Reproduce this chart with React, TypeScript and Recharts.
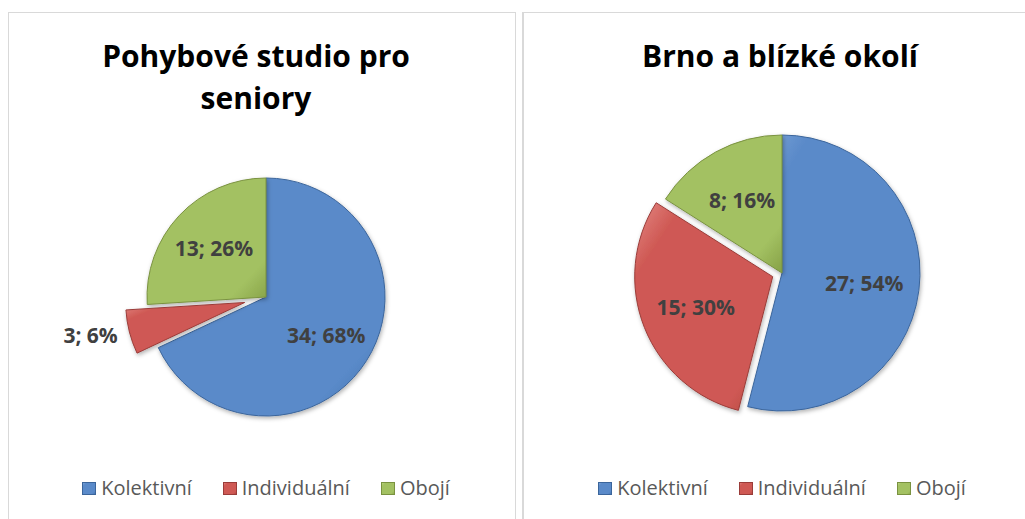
import { Cell, Legend, Pie, PieChart } from "recharts";

const categories = ["Kolektivní", "Individuální", "Obojí"];
const studioValues = [34, 3, 13];
const brnoValues = [27, 15, 8];
const studioTitle = "Pohybové studio pro seniory";
const brnoTitle = "Brno a blízké okolí";

// light edge, body, dark edge, outline
const SLICE_SHADES = [
  ["#86abdc", "#5a8ac9", "#3f6ea8", "#3b659b"],
  ["#e48a86", "#cf5954", "#a9403c", "#9a3c39"],
  ["#c2da8c", "#a3c162", "#86a146", "#7a9240"],
];

const LABEL_COLOR = "#404040";
const BORDER = "#d9d9d9";
const RAD = Math.PI / 180;

function toRows(values: number[]) {
  return categories.map((name, i) => ({ name, value: values[i] }));
}

// mid angle (degrees, recharts convention) of one slice when drawn clockwise from 12 o'clock
function sliceMidAngle(values: number[], index: number) {
  const total = values.reduce((a, b) => a + b, 0);
  const before = values.slice(0, index).reduce((a, b) => a + b, 0);
  return 90 - ((before + values[index] / 2) / total) * 360;
}

function makeLabel(visible: (index: number) => boolean) {
  return (props: any) => {
    const { cx, cy, midAngle, outerRadius, percent, value, index } = props;
    if (!visible(index)) return null;
    const outside = percent < 0.1;
    const r = outside ? outerRadius + 12 : outerRadius * 0.6;
    const x = cx + r * Math.cos(-midAngle * RAD);
    const y = cy + r * Math.sin(-midAngle * RAD);
    return (
      <text
        x={x}
        y={y}
        textAnchor={outside ? (x < cx ? "end" : "start") : "middle"}
        dominantBaseline="central"
        fill={LABEL_COLOR}
        fontFamily="'Open Sans', sans-serif"
        fontWeight={700}
        fontSize={21}
      >
        {`${value}; ${Math.round(percent * 100)}%`}
      </text>
    );
  };
}

function LegendRow({ prefix }: { prefix: string }) {
  return (
    <div
      style={{
        display: "flex",
        justifyContent: "center",
        alignItems: "center",
        height: 24,
        fontFamily: "'Open Sans', sans-serif",
        fontSize: 20,
        color: "#595959",
      }}
    >
      {categories.map((name, i) => (
        <div key={name} style={{ display: "flex", alignItems: "center", marginLeft: i ? 31 : 0 }}>
          <svg width={14} height={13} style={{ marginRight: 5 }}>
            <rect x={0.5} y={0.5} width={13} height={12} fill={`url(#${prefix}-grad-${i})`} stroke={SLICE_SHADES[i][3]} />
          </svg>
          <span style={{ lineHeight: "24px" }}>{name}</span>
        </div>
      ))}
    </div>
  );
}

interface PanelProps {
  prefix: string;
  title: string;
  values: number[];
  explodedIndex: number;
  explode: number;
  left: number;
  width: number;
  borderLeftWidth: number;
  borderRight: boolean;
  cx: number;
  cy: number;
  radius: number;
  titleCenter: number;
}

function PiePanel(p: PanelProps) {
  const rows = toRows(p.values);
  const height = 506;
  const mid = sliceMidAngle(p.values, p.explodedIndex);
  const ex = p.cx + p.explode * Math.cos(-mid * RAD);
  const ey = p.cy + p.explode * Math.sin(-mid * RAD);

  return (
    <div
      style={{
        position: "absolute",
        left: p.left,
        top: 12,
        width: p.width,
        height,
        borderTop: `1px solid ${BORDER}`,
        borderLeft: `${p.borderLeftWidth}px solid ${BORDER}`,
        borderRight: p.borderRight ? `1px solid ${BORDER}` : "none",
      }}
    >
      <div
        style={{
          position: "absolute",
          left: p.titleCenter - 170,
          top: 22,
          width: 340,
          textAlign: "center",
          fontFamily: "'Open Sans', sans-serif",
          fontWeight: 700,
          fontSize: 30,
          lineHeight: "42px",
          color: "#000",
          zIndex: 1,
        }}
      >
        {p.title}
      </div>
      <PieChart width={p.width} height={height} margin={{ top: 0, right: 0, bottom: 0, left: 0 }}>
        <defs>
          {SLICE_SHADES.map((s, i) => (
            <linearGradient key={i} id={`${p.prefix}-grad-${i}`} x1="0" y1="0" x2="1" y2="1">
              <stop offset="0%" stopColor={s[0]} />
              <stop offset="18%" stopColor={s[1]} />
              <stop offset="82%" stopColor={s[1]} />
              <stop offset="100%" stopColor={s[2]} />
            </linearGradient>
          ))}
          <filter id={`${p.prefix}-shadow`} x="-20%" y="-20%" width="140%" height="140%">
            <feDropShadow dx="1" dy="2" stdDeviation="2" floodColor="#000" floodOpacity="0.3" />
          </filter>
        </defs>
        <Pie
          data={rows}
          dataKey="value"
          nameKey="name"
          cx={p.cx}
          cy={p.cy}
          outerRadius={p.radius}
          startAngle={90}
          endAngle={-270}
          label={makeLabel((i) => i !== p.explodedIndex)}
          labelLine={false}
          legendType="none"
          isAnimationActive={false}
        >
          {rows.map((r, i) => (
            <Cell
              key={r.name}
              fill={i === p.explodedIndex ? "transparent" : `url(#${p.prefix}-grad-${i})`}
              stroke={i === p.explodedIndex ? "none" : SLICE_SHADES[i][3]}
              strokeWidth={1}
              filter={i === p.explodedIndex ? undefined : `url(#${p.prefix}-shadow)`}
            />
          ))}
        </Pie>
        <Pie
          data={rows}
          dataKey="value"
          nameKey="name"
          cx={ex}
          cy={ey}
          outerRadius={p.radius}
          startAngle={90}
          endAngle={-270}
          label={makeLabel((i) => i === p.explodedIndex)}
          labelLine={false}
          legendType="none"
          isAnimationActive={false}
        >
          {rows.map((r, i) => (
            <Cell
              key={r.name}
              fill={i === p.explodedIndex ? `url(#${p.prefix}-grad-${i})` : "transparent"}
              stroke={i === p.explodedIndex ? SLICE_SHADES[i][3] : "none"}
              strokeWidth={1}
              filter={i === p.explodedIndex ? `url(#${p.prefix}-shadow)` : undefined}
            />
          ))}
        </Pie>
        <Legend
          verticalAlign="bottom"
          wrapperStyle={{ left: p.cx - 250, width: 500, top: 463, bottom: "auto" }}
          content={() => <LegendRow prefix={p.prefix} />}
        />
      </PieChart>
    </div>
  );
}

export default function App() {
  return (
    <div style={{ position: "relative", width: 1025, height: 519, background: "#fff", overflow: "hidden" }}>
      <style>{"body{margin:0;overflow:hidden}"}</style>
      <PiePanel
        prefix="studio"
        title={studioTitle}
        values={studioValues}
        explodedIndex={1}
        explode={22}
        left={8}
        width={506}
        borderLeftWidth={1}
        borderRight
        cx={257}
        cy={284}
        radius={119}
        titleCenter={247}
      />
      <PiePanel
        prefix="brno"
        title={brnoTitle}
        values={brnoValues}
        explodedIndex={1}
        explode={10}
        left={522}
        width={501}
        borderLeftWidth={2}
        borderRight={false}
        cx={258}
        cy={260}
        radius={138}
        titleCenter={256}
      />
    </div>
  );
}
